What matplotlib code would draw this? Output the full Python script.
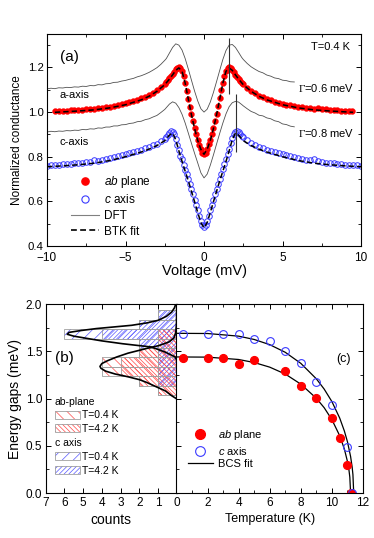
import matplotlib
matplotlib.use('Agg')
import matplotlib.pyplot as plt
from matplotlib.ticker import MultipleLocator
from matplotlib.lines import Line2D
from matplotlib.patches import Patch
from matplotlib.legend_handler import HandlerTuple

plt.rcParams['font.family'] = ['Liberation Sans', 'DejaVu Sans']
plt.rcParams['mathtext.fontset'] = 'custom'
plt.rcParams['mathtext.it'] = 'Liberation Sans:italic'
plt.rcParams['mathtext.rm'] = 'Liberation Serif'
plt.rcParams['hatch.linewidth'] = 0.5

# ---------------- panel (a): conductance spectra ----------------
V_c = [-10, -9.75, -9.5, -9.25, -9, -8.75, -8.5, -8.25, -8, -7.75, -7.5, -7.25, -7, -6.75, -6.5, -6.25,
       -6, -5.75, -5.5, -5.25, -5, -4.75, -4.5, -4.25, -4, -3.75, -3.5, -3.25, -3, -2.75, -2.5,
       -2.4, -2.3, -2.2, -2.1, -2.0, -1.9, -1.8, -1.7, -1.6, -1.5, -1.4, -1.3, -1.2, -1.1, -1.0, -0.9,
       -0.8, -0.7, -0.6, -0.5, -0.4, -0.3, -0.2, -0.1, 0,
       0.1, 0.2, 0.3, 0.4, 0.5, 0.6, 0.7, 0.8, 0.9, 1.0, 1.1, 1.2, 1.3, 1.4, 1.5, 1.6, 1.7, 1.8, 1.9,
       2.0, 2.1, 2.2, 2.3, 2.4,
       2.5, 2.75, 3, 3.25, 3.5, 3.75, 4, 4.25, 4.5, 4.75, 5, 5.25, 5.5, 5.75, 6, 6.25, 6.5, 6.75,
       7, 7.25, 7.5, 7.75, 8, 8.25, 8.5, 8.75, 9, 9.25, 9.5, 9.75, 10]
G_c = [0.760, 0.761, 0.763, 0.764, 0.766, 0.767, 0.769, 0.770, 0.772, 0.774, 0.776, 0.778, 0.786,
       0.781, 0.784, 0.790, 0.794, 0.798, 0.802, 0.807, 0.811, 0.816, 0.821, 0.826, 0.831, 0.837,
       0.844, 0.851, 0.859, 0.869, 0.880,
       0.887, 0.896, 0.906, 0.914, 0.913, 0.900, 0.878, 0.853, 0.828, 0.805, 0.790, 0.765, 0.742,
       0.721, 0.700, 0.678, 0.655, 0.632, 0.608, 0.585, 0.560, 0.535, 0.512, 0.494, 0.487,
       0.494, 0.511, 0.534, 0.559, 0.584, 0.608, 0.632, 0.656, 0.679, 0.702, 0.724, 0.746, 0.768,
       0.790, 0.812, 0.836, 0.861, 0.885, 0.904, 0.913, 0.915, 0.910, 0.902, 0.895,
       0.888, 0.874, 0.863, 0.853, 0.845, 0.838, 0.831, 0.825, 0.820, 0.815, 0.810, 0.806, 0.802,
       0.798, 0.794, 0.790, 0.786, 0.784, 0.788, 0.779, 0.776, 0.774, 0.772, 0.770, 0.768, 0.767,
       0.765, 0.764, 0.763, 0.761, 0.760]

V_ab = [-9.5, -9.25, -9, -8.75, -8.5, -8.25, -8, -7.75, -7.5, -7.25, -7, -6.75, -6.5, -6.25,
        -6, -5.75, -5.5, -5.25, -5, -4.75, -4.5, -4.25, -4, -3.75, -3.5, -3.25, -3, -2.75, -2.5,
        -2.4, -2.3, -2.2, -2.1, -2.0, -1.9, -1.8, -1.7, -1.6, -1.5, -1.4, -1.3, -1.2, -1.1, -1.0, -0.9,
        -0.8, -0.7, -0.6, -0.5, -0.4, -0.3, -0.2, -0.1, 0,
        0.1, 0.2, 0.3, 0.4, 0.5, 0.6, 0.7, 0.8, 0.9, 1.0, 1.1, 1.2, 1.3, 1.4, 1.5, 1.6, 1.7, 1.8, 1.9,
        2.0, 2.1, 2.2, 2.3, 2.4,
        2.5, 2.75, 3, 3.25, 3.5, 3.75, 4, 4.25, 4.5, 4.75, 5, 5.25, 5.5, 5.75, 6, 6.25, 6.5, 6.75,
        7, 7.25, 7.5, 7.75, 8, 8.25, 8.5, 8.75, 9, 9.25, 9.4]
G_ab = [1.003, 1.004, 1.005, 1.006, 1.008, 1.009, 1.010, 1.011, 1.013, 1.014, 1.015, 1.017, 1.020,
        1.022, 1.025, 1.028, 1.032, 1.036, 1.040, 1.045, 1.050, 1.056, 1.062, 1.069, 1.077, 1.087,
        1.098, 1.112, 1.128,
        1.135, 1.143, 1.152, 1.161, 1.171, 1.181, 1.191, 1.198, 1.201, 1.197, 1.185, 1.162, 1.130,
        1.095, 1.060, 1.024, 0.990, 0.958, 0.928, 0.900, 0.875, 0.853, 0.835, 0.818, 0.810,
        0.818, 0.836, 0.855, 0.877, 0.902, 0.930, 0.960, 0.992, 1.026, 1.062, 1.097, 1.132, 1.163,
        1.186, 1.198, 1.201, 1.197, 1.188, 1.178, 1.168, 1.158, 1.149, 1.140, 1.132,
        1.125, 1.108, 1.095, 1.084, 1.074, 1.066, 1.059, 1.053, 1.047, 1.042, 1.038, 1.034, 1.030,
        1.027, 1.024, 1.021, 1.019, 1.017, 1.016, 1.018, 1.013, 1.012, 1.010, 1.009, 1.008, 1.007,
        1.006, 1.005, 1.005]

V_dft = [-10, -9.75, -9.5, -9.25, -9, -8.75, -8.5, -8.25, -8, -7.75, -7.5, -7.25, -7, -6.75, -6.5,
         -6.25, -6, -5.75, -5.5, -5.25, -5, -4.75, -4.5, -4.25, -4, -3.75, -3.5, -3.25, -3, -2.75, -2.5,
         -2.4, -2.2, -2.0, -1.8, -1.6, -1.4, -1.2, -1.0, -0.8, -0.6, -0.4, -0.2, 0,
         0.2, 0.4, 0.6, 0.8, 1.0, 1.2, 1.4, 1.6, 1.8, 2.0, 2.2, 2.4,
         2.5, 2.75, 3, 3.25, 3.5, 3.75, 4, 4.25, 4.5, 4.75, 5, 5.25, 5.5, 5.75]
G_dft_a = [1.104, 1.107, 1.105, 1.109, 1.108, 1.111, 1.110, 1.113, 1.112, 1.116, 1.115, 1.119,
           1.118, 1.123, 1.122, 1.127, 1.128, 1.133, 1.134, 1.139, 1.142, 1.147, 1.151, 1.158,
           1.163, 1.170, 1.178, 1.188, 1.199, 1.214, 1.232,
           1.240, 1.265, 1.290, 1.306, 1.300, 1.278, 1.240, 1.193, 1.143, 1.094, 1.050, 1.015, 1.000,
           1.013, 1.045, 1.088, 1.137, 1.187, 1.236, 1.276, 1.300, 1.303, 1.290, 1.268, 1.245,
           1.236, 1.218, 1.203, 1.192, 1.182, 1.176, 1.166, 1.161, 1.153, 1.150, 1.143, 1.141,
           1.136, 1.135]
G_dft_c = [0.911, 0.914, 0.912, 0.915, 0.914, 0.917, 0.916, 0.919, 0.918, 0.922, 0.921, 0.925,
           0.924, 0.929, 0.928, 0.933, 0.933, 0.938, 0.938, 0.943, 0.944, 0.949, 0.951, 0.957,
           0.959, 0.966, 0.970, 0.978, 0.985, 0.998, 1.012,
           1.020, 1.036, 1.046, 1.040, 1.020, 0.990, 0.951, 0.906, 0.860, 0.815, 0.772, 0.728, 0.705,
           0.722, 0.762, 0.808, 0.857, 0.905, 0.951, 0.992, 1.024, 1.042, 1.048, 1.045, 1.034,
           1.028, 1.015, 1.003, 0.996, 0.986, 0.983, 0.974, 0.970, 0.961, 0.957, 0.947, 0.944,
           0.937, 0.934]

V_btk_ab = [-9.5, -9, -8, -7, -6, -5, -4, -3.5, -3, -2.5, -2.2, -2.0, -1.8, -1.6, -1.4, -1.2, -1.0,
            -0.8, -0.6, -0.4, -0.2, 0, 0.2, 0.4, 0.6, 0.8, 1.0, 1.2, 1.4, 1.6, 1.8, 2.0, 2.2, 2.5,
            3, 3.5, 4, 5, 6, 7, 8, 9, 9.5]
G_btk_ab = [0.999, 1.001, 1.005, 1.010, 1.019, 1.033, 1.055, 1.071, 1.093, 1.123, 1.148, 1.167,
            1.187, 1.198, 1.183, 1.130, 1.058, 0.988, 0.926, 0.873, 0.833, 0.811,
            0.833, 0.873, 0.926, 0.988, 1.058, 1.130, 1.183, 1.198, 1.187, 1.167, 1.148, 1.123,
            1.093, 1.071, 1.055, 1.033, 1.019, 1.010, 1.005, 1.001, 0.999]
V_btk_c = [-10, -9, -8, -7, -6, -5, -4, -3.5, -3, -2.5, -2.2, -2.0, -1.8, -1.6, -1.4, -1.2, -1.0,
           -0.8, -0.6, -0.4, -0.2, 0, 0.2, 0.4, 0.6, 0.8, 1.0, 1.2, 1.4, 1.6, 1.8, 2.0, 2.2, 2.5,
           3, 3.5, 4, 5, 6, 7, 8, 9, 10]
G_btk_c = [0.755, 0.759, 0.764, 0.771, 0.783, 0.800, 0.821, 0.834, 0.850, 0.872, 0.897, 0.906,
           0.876, 0.826, 0.779, 0.735, 0.692, 0.645, 0.598, 0.550, 0.505, 0.481,
           0.505, 0.550, 0.598, 0.645, 0.692, 0.735, 0.779, 0.826, 0.876, 0.906, 0.897, 0.872,
           0.850, 0.834, 0.821, 0.800, 0.783, 0.771, 0.764, 0.759, 0.755]

gap_marks_V = [1.6, 2.05]
gap_marks_lo = [1.08, 0.82]
gap_marks_hi = [1.33, 1.08]

# ---------------- panel (b): gap histograms ----------------
bin_E = [1.085, 1.185, 1.285, 1.385, 1.485, 1.585, 1.685, 1.785, 1.885]
ab_04K = [1, 2, 4, 4, 2, 1, 1, 0, 0]
ab_42K = [1, 2, 3, 3, 2, 1, 1, 0, 0]
c_04K = [0, 1, 1, 1, 1, 2, 6, 2, 1]
c_42K = [0, 1, 1, 1, 1, 2, 4, 2, 1]

fit_ab_E = [1.00, 1.03, 1.08, 1.125, 1.17, 1.20, 1.23, 1.26, 1.29, 1.32, 1.34, 1.37, 1.40, 1.44,
            1.48, 1.51, 1.54, 1.56, 1.60, 1.64, 1.70, 1.80, 2.0]
fit_ab_n = [0.03, 0.27, 0.6, 1.1, 1.6, 2.0, 2.6, 3.3, 3.8, 4.05, 4.1, 4.0, 3.7, 3.2, 2.6, 2.0,
            1.4, 0.95, 0.4, 0.15, 0.05, 0.01, 0.0]
fit_c_E = [1.40, 1.44, 1.49, 1.545, 1.58, 1.61, 1.633, 1.66, 1.68, 1.70, 1.72, 1.74, 1.775, 1.80,
           1.827, 1.87, 1.915, 1.96, 2.0]
fit_c_n = [0.0, 0.08, 0.6, 1.35, 2.9, 4.0, 4.7, 5.5, 5.85, 5.75, 5.1, 4.3, 2.4, 1.6, 1.0, 0.55,
           0.27, 0.12, 0.05]

# ---------------- panel (c): gap vs temperature ----------------
T_ab = [0.4, 2, 3, 4, 5, 7, 8, 9, 10, 10.5, 11, 11.25]
D_ab = [1.43, 1.43, 1.43, 1.365, 1.407, 1.29, 1.135, 1.01, 0.79, 0.58, 0.30, 0.0]
T_c = [0.4, 2, 3, 4, 5, 6, 7, 8, 9, 10, 11, 11.3]
D_c = [1.683, 1.683, 1.683, 1.683, 1.63, 1.61, 1.50, 1.38, 1.18, 0.93, 0.49, 0.0]

bcs_T_ab = [0, 2, 4, 5, 6, 7, 8, 9, 9.5, 10, 10.5, 10.8, 11.0, 11.1, 11.15, 11.2]
bcs_D_ab = [1.44, 1.438, 1.413, 1.381, 1.332, 1.259, 1.152, 1.002, 0.903, 0.776, 0.606, 0.465,
            0.332, 0.236, 0.167, 0.0]
bcs_T_c = [0, 2, 4, 5, 6, 7, 8, 9, 9.5, 10, 10.5, 10.8, 11.0, 11.2, 11.3, 11.35, 11.4]
bcs_D_c = [1.69, 1.688, 1.660, 1.625, 1.570, 1.489, 1.372, 1.208, 1.100, 0.967, 0.793, 0.656,
           0.541, 0.386, 0.274, 0.194, 0.0]

red = '#ff0000'
blue = '#3a3aff'
red_h = '#ff4a4a'
blue_h = '#5a5aff'
edge_gray = '#a0a0a0'

fig = plt.figure(figsize=(3.74, 5.38), dpi=100)
axa = fig.add_axes([0.1257, 0.5428, 0.8396, 0.394])
axb = fig.add_axes([0.1222, 0.0836, 0.3503, 0.3513])
axc = fig.add_axes([0.4717, 0.0836, 0.4990, 0.3513])

# (a)
axa.plot(V_dft, G_dft_a, color='#505050', lw=0.6)
axa.plot(V_dft, G_dft_c, color='#505050', lw=0.6)
axa.plot(V_ab, G_ab, ls='none', marker='o', ms=4.2, mfc=red, mec=red, mew=0.3)
axa.plot(V_c, G_c, ls='none', marker='o', ms=4.0, mfc='none', mec=blue, mew=0.7)
axa.plot(V_btk_ab, G_btk_ab, color='k', lw=1.1, dashes=(3.5, 2))
axa.plot(V_btk_c, G_btk_c, color='k', lw=1.1, dashes=(3.5, 2))
axa.vlines(gap_marks_V, gap_marks_lo, gap_marks_hi, color='#303030', lw=0.8)

axa.set_xlim(-10, 10)
axa.set_ylim(0.4, 1.35)
axa.xaxis.set_major_locator(MultipleLocator(5))
axa.xaxis.set_minor_locator(MultipleLocator(2.5))
axa.yaxis.set_major_locator(MultipleLocator(0.2))
axa.yaxis.set_minor_locator(MultipleLocator(0.1))
axa.set_xlabel('Voltage (mV)', fontsize=10.5, labelpad=0)
axa.set_ylabel('Normalized conductance', fontsize=8.5, labelpad=3)

axa.text(-9.2, 1.245, '(a)', fontsize=11, va='center')
axa.text(9.3, 1.29, 'T=0.4 K', fontsize=8, ha='right', va='center')
axa.text(6.0, 1.11, r'$\Gamma$=0.6 meV', fontsize=8, va='center')
axa.text(6.0, 0.905, r'$\Gamma$=0.8 meV', fontsize=8, va='center')
axa.text(-9.2, 1.075, 'a-axis', fontsize=8, va='center')
axa.text(-9.2, 0.868, 'c-axis', fontsize=8, va='center')

ha = [Line2D([], [], ls='none', marker='o', ms=5.2, mfc=red, mec=red),
      Line2D([], [], ls='none', marker='o', ms=5.2, mfc='none', mec=blue, mew=0.8),
      Line2D([], [], color='#808080', lw=0.8),
      Line2D([], [], color='k', lw=1.2, dashes=(3.5, 2))]
axa.legend(ha, [r'$\mathit{ab}$ plane', r'$\mathit{c}$ axis', 'DFT', 'BTK fit'],
           loc='upper left', bbox_to_anchor=(0.075, 0.34), frameon=False, fontsize=8.5,
           handlelength=2.4, handletextpad=0.4, labelspacing=0.3, borderpad=0, borderaxespad=0)

# (b)
axb.barh(bin_E, c_04K, height=0.1, color='none', edgecolor=blue_h, lw=0, hatch='/' * 3)
axb.barh(bin_E, ab_04K, height=0.1, color='none', edgecolor=red_h, lw=0, hatch='\\' * 3)
axb.barh(bin_E, c_42K, height=0.1, color='none', edgecolor=blue_h, lw=0, hatch='/' * 7)
axb.barh(bin_E, ab_42K, height=0.1, color='none', edgecolor=red_h, lw=0, hatch='\\' * 7)
for cnt in (c_04K, ab_04K, c_42K, ab_42K):
    axb.barh(bin_E, cnt, height=0.1, color='none', edgecolor=edge_gray, lw=0.6)
axb.plot(fit_ab_n, fit_ab_E, color='k', lw=1.2)
axb.plot(fit_c_n, fit_c_E, color='k', lw=1.2)

axb.set_xlim(7, 0)
axb.set_ylim(0, 2.0)
axb.xaxis.set_major_locator(MultipleLocator(1))
axb.yaxis.set_major_locator(MultipleLocator(0.5))
axb.yaxis.set_minor_locator(MultipleLocator(0.25))
axb.set_yticks([0, 0.5, 1.0, 1.5, 2.0], ['0.0', '0.5', '1.0', '1.5', '2.0'])
axb.set_xlabel('counts', fontsize=10, labelpad=3)
axb.set_ylabel('Energy gaps (meV)', fontsize=10, labelpad=3)
axb.text(6.0, 1.43, '(b)', fontsize=11, ha='center', va='center')

def swatch(col, hatch):
    return (Patch(facecolor='none', edgecolor=col, lw=0, hatch=hatch),
            Patch(facecolor='none', edgecolor=edge_gray, lw=0.6))

leg_kw = dict(loc='upper left', frameon=False, fontsize=7.5, title_fontsize=7.5,
              alignment='left', handlelength=2.4, handleheight=0.85, handletextpad=0.25,
              labelspacing=0.35, borderpad=0, borderaxespad=0,
              handler_map={tuple: HandlerTuple(ndivide=1)})
leg1 = axb.legend([swatch(red_h, '\\' * 3), swatch(red_h, '\\' * 7)], ['T=0.4 K', 'T=4.2 K'],
                  title='ab-plane', bbox_to_anchor=(0.07, 0.51), **leg_kw)
axb.add_artist(leg1)
axb.legend([swatch(blue_h, '/' * 3), swatch(blue_h, '/' * 7)], ['T=0.4 K', 'T=4.2 K'],
           title='c axis', bbox_to_anchor=(0.07, 0.29), **leg_kw)

# (c)
axc.plot(bcs_T_c, bcs_D_c, color='k', lw=0.9)
axc.plot(bcs_T_ab, bcs_D_ab, color='k', lw=0.9)
axc.plot(T_ab, D_ab, ls='none', marker='o', ms=5.6, mfc=red, mec=red)
axc.plot(T_c, D_c, ls='none', marker='o', ms=5.6, mfc='none', mec=blue, mew=0.8)
axc.set_xlim(0, 12)
axc.set_ylim(0, 2.0)
axc.set_xticks([0, 2, 4, 6, 8, 10, 12], ['', '2', '4', '6', '8', '10', '12'])
axc.xaxis.set_minor_locator(MultipleLocator(1))
axc.yaxis.set_major_locator(MultipleLocator(0.5))
axc.yaxis.set_minor_locator(MultipleLocator(0.25))
axc.tick_params(axis='y', labelleft=False)
axc.set_xlabel('Temperature (K)', fontsize=9, labelpad=3)
axc.text(10.75, 1.415, '(c)', fontsize=9, ha='center', va='center')

hc = [Line2D([], [], ls='none', marker='o', ms=7, mfc=red, mec=red),
      Line2D([], [], ls='none', marker='o', ms=7, mfc='none', mec=blue, mew=0.8),
      Line2D([], [], color='k', lw=0.9)]
axc.legend(hc, [r'$\mathit{ab}$ plane', r'$\mathit{c}$ axis', 'BCS fit'],
           loc='upper left', bbox_to_anchor=(0.06, 0.345), frameon=False, fontsize=8,
           handlelength=2.3, handletextpad=0.4, labelspacing=0.25, borderpad=0, borderaxespad=0)

for ax in (axa, axb, axc):
    ax.tick_params(which='both', direction='in', top=True, labelsize=8.5)
    ax.tick_params(which='major', length=3.5, width=0.7)
    ax.tick_params(which='minor', length=2, width=0.6)
    ax.tick_params(axis='x', pad=3)
    ax.tick_params(axis='y', pad=2.5)
    for s in ax.spines.values():
        s.set_linewidth(0.8)
axa.tick_params(axis='x', pad=4.5)
axa.tick_params(axis='y', labelsize=8.2)
axa.tick_params(which='both', right=True)
axb.tick_params(which='both', right=False)
axc.tick_params(which='both', right=True, left=True)

fig.savefig('out.png', dpi=100)
